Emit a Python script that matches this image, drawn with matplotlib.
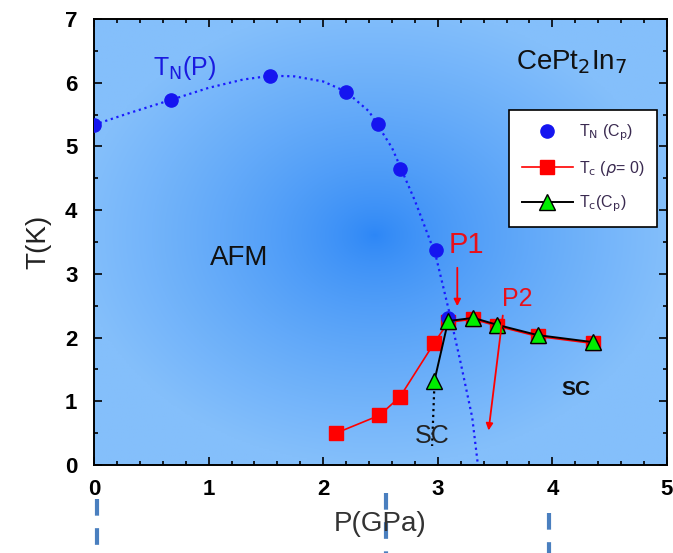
import numpy as np
import matplotlib.pyplot as plt

plt.rcParams['font.family'] = ['Liberation Sans', 'DejaVu Sans']

# T_N from specific heat
tn_p = [0.0, 0.67, 1.54, 2.20, 2.48, 2.67, 2.98, 3.09]
tn_t = [5.34, 5.73, 6.11, 5.86, 5.35, 4.65, 3.38, 2.31]

# T_N(P) guide curve
tn_fit_p = [0.0, 0.3, 0.67, 1.0, 1.3, 1.54, 1.75, 2.0, 2.2, 2.4, 2.6, 2.8, 2.98, 3.1, 3.2, 3.3, 3.35]
tn_fit_t = [5.34, 5.52, 5.73, 5.92, 6.05, 6.11, 6.10, 6.02, 5.86, 5.55, 4.98, 4.15, 3.3, 2.4, 1.6, 0.75, 0.0]

# T_c from resistivity
tcr_p = [2.11, 2.49, 2.67, 2.97, 3.09, 3.31, 3.52, 3.87, 4.35]
tcr_t = [0.50, 0.78, 1.07, 1.92, 2.24, 2.29, 2.18, 2.02, 1.91]

# T_c from specific heat
tcc_p = [2.97, 3.09, 3.31, 3.52, 3.87, 4.35]
tcc_t = [1.32, 2.26, 2.31, 2.20, 2.04, 1.93]

# dotted extension below lowest bulk T_c
tcc_ext_p = [2.97, 2.95]
tcc_ext_t = [1.25, 0.3]

fig = plt.figure(figsize=(6.73, 5.53), dpi=100)
ax = fig.add_axes([0.1397, 0.159, 0.8514, 0.8066])

# radial blue background
gx, gy = np.meshgrid(np.linspace(0, 5, 300), np.linspace(0, 7, 300))
r = np.sqrt(((gx - 2.45) / 2.6) ** 2 + ((gy - 3.6) / 3.6) ** 2)
r = np.clip(r, 0, 1)
c0 = np.array([0x2c, 0x86, 0xf6]) / 255
c1 = np.array([0x84, 0xbf, 0xfb]) / 255
w = r[..., None] ** 0.75
img = c0 * (1 - w) + c1 * w
ax.imshow(img, extent=[0, 5, 0, 7], origin='lower', aspect='auto', zorder=0)

ax.plot(tn_fit_p, tn_fit_t, ':', color='#1a1aff', lw=1.6, zorder=2)
ax.plot(tcc_ext_p, tcc_ext_t, ':', color='black', lw=1.6, zorder=2)
ax.plot(tn_p, tn_t, 'o', color='#1515f0', ms=9.5, mec='#1515f0', zorder=4,
        label=r'T$_{\rm N}$ (C$_{\rm p}$)')
ax.plot(tcr_p, tcr_t, 's-', color='red', ms=10, lw=1.2, zorder=3,
        label=r'T$_{\rm c}$ ($\rho$= 0)')
ax.plot(tcc_p, tcc_t, '^-', color='black', mfc='#00ee00', mec='black', ms=11, lw=1.4,
        zorder=5, label=r'T$_{\rm c}$(C$_{\rm p}$)')

# arrows P1, P2
ax.annotate('', xy=(3.17, 2.45), xytext=(3.17, 3.14),
            arrowprops=dict(arrowstyle='-|>', color='red', lw=1.3, mutation_scale=10), zorder=6)
ax.annotate('', xy=(3.44, 0.5), xytext=(3.57, 2.39),
            arrowprops=dict(arrowstyle='-|>', color='red', lw=1.3, mutation_scale=10), zorder=6)
ax.text(3.25, 3.45, 'P1', color='#e8101a', fontsize=21, ha='center', va='center')
ax.text(3.69, 2.6, 'P2', color='#e8101a', fontsize=18, ha='center', va='center')

ax.text(1.27, 3.25, 'AFM', fontsize=20, color='#111111', ha='center', va='center')
ax.text(4.21, 1.18, 'SC', fontsize=15, weight='bold', color='#111111', ha='center', va='center')
ax.text(2.95, 0.45, 'SC', fontsize=18, color='#222222', ha='center', va='center')
ax.text(0.79, 6.23, r'T$_{\rm N}$(P)', fontsize=18, color='#1a1ae0', ha='center', va='center')
ax.text(4.17, 6.33, r'CePt$_2$In$_7$', fontsize=20, color='#111111', ha='center', va='center')

ax.set_xlim(0, 5)
ax.set_ylim(0, 7)
ax.set_xticks([0, 1, 2, 3, 4, 5])
ax.set_yticks(range(8))
ax.set_xticks(np.arange(0, 5.01, 0.2), minor=True)
ax.set_yticks(np.arange(0, 7.01, 0.5), minor=True)
ax.tick_params(which='both', direction='in', top=True, right=True, width=1.2)
ax.tick_params(which='major', length=6, labelsize=16)
ax.tick_params(which='minor', length=3)
ax.tick_params(axis='x', pad=10)
ax.tick_params(axis='y', pad=12)
for lab in ax.get_xticklabels() + ax.get_yticklabels():
    lab.set_fontweight('bold')
for s in ax.spines.values():
    s.set_linewidth(1.4)

ax.set_xlabel('P(GPa)', fontsize=20, color='#333333', labelpad=8)
ax.set_ylabel('T(K)', fontsize=20, color='#222222', labelpad=10)

leg = ax.legend(loc='upper right', bbox_to_anchor=(0.997, 0.815), fontsize=11.5,
                frameon=True, fancybox=False, edgecolor='black', framealpha=1,
                handlelength=3.2, labelspacing=1.0, borderpad=0.8, handletextpad=0.4)
leg.get_frame().set_linewidth(1.2)
for t in leg.get_texts():
    t.set_color('#3a2a50')

# dashed marker lines below the axis
for xv, y0 in [(0.03, 0.075), (2.55, 0.063), (3.97, 0.107)]:
    ax.plot([xv, xv], [-y0 * 7, -1.4], '--', color='#4a7fbf', lw=3,
            dashes=(4, 3), clip_on=False, zorder=1)

fig.savefig('out.png', dpi=100)
